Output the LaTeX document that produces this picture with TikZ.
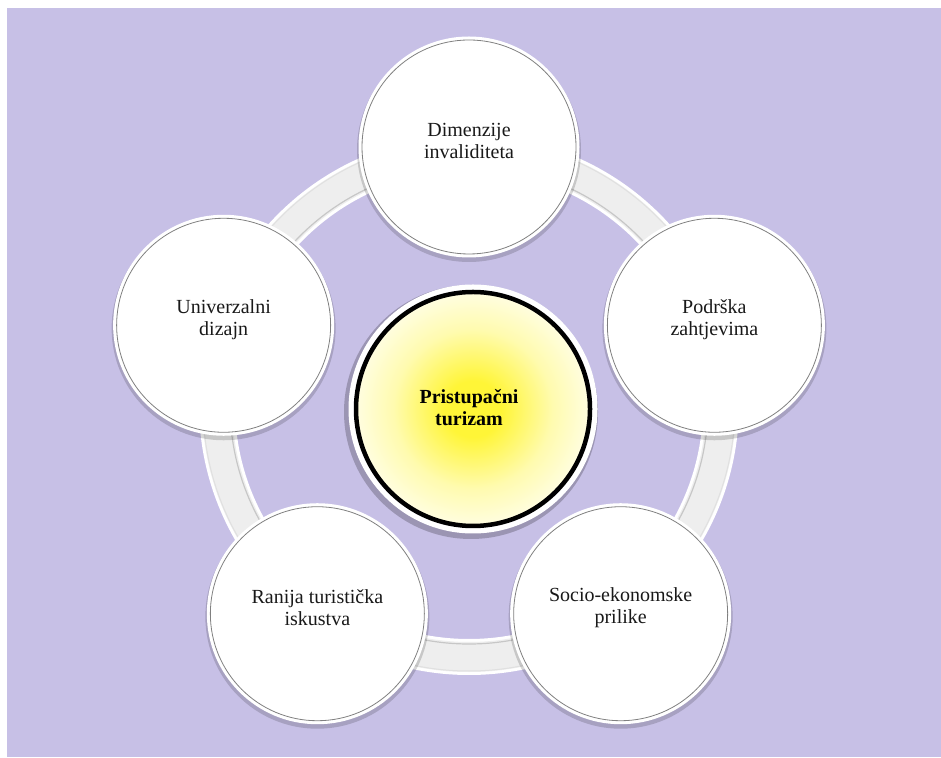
\documentclass[tikz,border=0pt]{standalone}
\usepackage{fontspec}
\setmainfont{Liberation Serif}
\usetikzlibrary{calc}
\definecolor{lav}{RGB}{199,192,230}
\definecolor{bandgray}{RGB}{238,238,238}
\definecolor{ylw}{RGB}{255,245,55}
\definecolor{ylwmid}{RGB}{255,251,175}
\pgfdeclareradialshading{yglow}{\pgfpoint{0bp}{0bp}}{color(0bp)=(ylw); color(6bp)=(ylw); color(17bp)=(ylwmid); color(30bp)=(white); color(50bp)=(white)}
\begin{document}
\begin{tikzpicture}[x=1pt,y=1pt,
  outer/.style={circle, fill=white, draw=black!50, line width=0.8pt, minimum size=214pt, inner sep=0pt},
  lbl/.style={font=\fontsize{20}{22}\selectfont, align=center, text=black!90, yshift=6pt},
  corelbl/.style={font=\bfseries\fontsize{20}{22}\selectfont, align=center, text=black}]
\useasboundingbox (0,0) rectangle (941,757);
\fill[white] (0,0) rectangle (941,757);
\fill[lav] (7,0) rectangle (941,749);
\coordinate (c) at (469,352);
\coordinate (cc) at (473,348);
% connecting band
\draw[white, line width=36pt] (c) circle[radius=252pt];
\draw[bandgray, line width=30pt] (c) circle[radius=252pt];
\draw[black!22, line width=1.2pt] (c) circle[radius=239pt];
\draw[black!12, line width=1pt] (c) circle[radius=266pt];
% positions
\coordinate (p1) at ($(c)+(90:258pt)$);
\coordinate (p2) at ($(c)+(18:258pt)$);
\coordinate (p3) at ($(c)+(-54:258pt)$);
\coordinate (p4) at ($(c)+(-126:258pt)$);
\coordinate (p5) at ($(c)+(162:258pt)$);
% halos
\foreach \p in {p1,p2,p3,p4,p5} {
  \fill[black, opacity=.16] ([yshift=-3pt]\p) circle[radius=112pt];
  \fill[white] (\p) circle[radius=110.5pt];
}
\fill[black, opacity=.22] ([shift={(-2pt,-3pt)}]cc) circle[radius=127pt];
\fill[white] (cc) circle[radius=124.5pt];
% outer circles
\node[outer] (dim) at (p1) {};
\node[outer] (pod) at (p2) {};
\node[outer] (soc) at (p3) {};
\node[outer] (ran) at (p4) {};
\node[outer] (uni) at (p5) {};
\node[lbl] (dimt) at (dim) {Dimenzije\\invaliditeta};
\node[lbl] (podt) at (pod) {Podrška\\zahtjevima};
\node[lbl] (soct) at (soc) {Socio-ekonomske\\prilike};
\node[lbl] (rant) at (ran) {Ranija turistička\\iskustva};
\node[lbl] (unit) at (uni) {Univerzalni\\dizajn};
% core
\node[circle, minimum size=234pt, inner sep=0pt, draw=black, line width=4.5pt, shading=yglow] (core) at (cc) {};
\node[corelbl] (coret) at (469,349) {Pristupačni\\turizam};
\end{tikzpicture}
\end{document}
